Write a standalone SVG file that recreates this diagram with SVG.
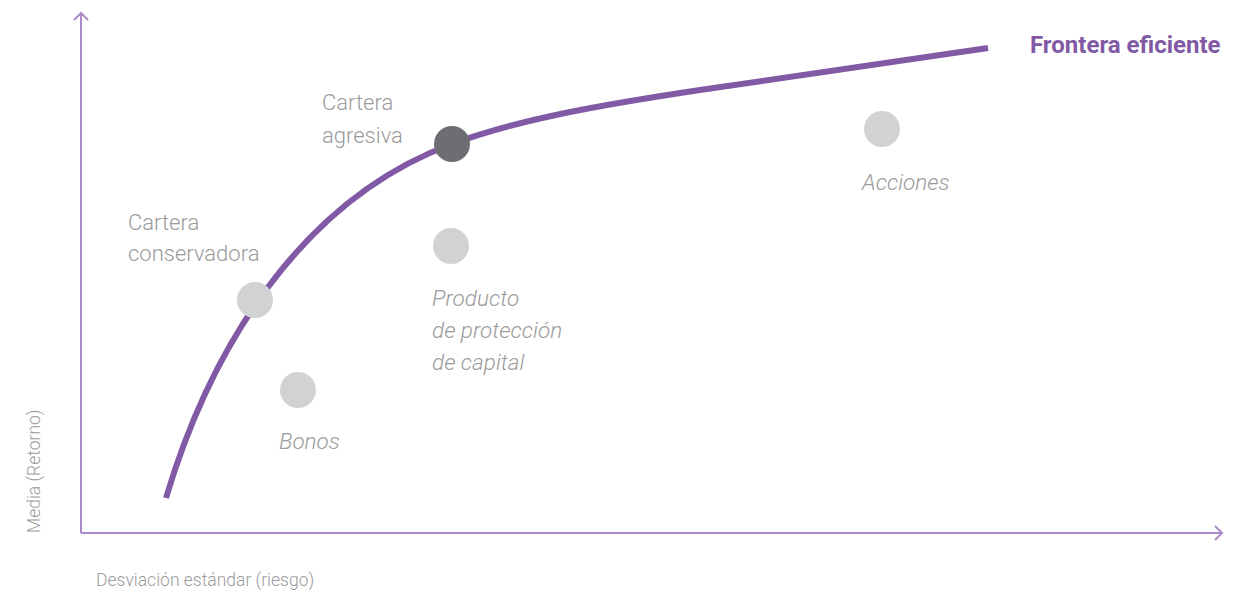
<svg xmlns="http://www.w3.org/2000/svg" width="1248" height="593" viewBox="0 0 1248 593">
<style>
.axis{fill:none;stroke:#a98cc7;stroke-width:2}
.lbl{font-family:Roboto,"Liberation Sans",sans-serif;font-weight:300;font-size:22px;fill:#9b9b9b}
.it{font-style:italic;font-size:22.5px}
.ax{font-family:Roboto,"Liberation Sans",sans-serif;font-weight:300;font-size:17.5px;fill:#9b9b9b}
.pt{fill:#d1d2d4}
</style>
<rect width="1248" height="593" fill="#fff"/>
<g id="axes">
<path class="axis" d="M81,533 V13 M74,20 L81,13 L88,20"/>
<path class="axis" d="M81,533 H1222 M1215,526 L1222,533 L1215,540"/>
<text class="ax" x="96" y="586">Desviación estándar (riesgo)</text>
<text class="ax" transform="translate(40,533) rotate(-90)" x="0" y="0">Media (Retorno)</text>
</g>
<g id="connectors">
<path d="M166,498 C210,350 300,200 452,144 C520,119 600,105 700,90 S900,60 988,48" fill="none" stroke="#8159a4" stroke-width="6"/>
</g>
<g id="frontera"><text x="1030" y="53" font-family="Roboto,'Liberation Sans',sans-serif" font-weight="700" font-size="24" fill="#8159a4">Frontera eficiente</text></g>
<g id="conservadora">
<circle class="pt" cx="255" cy="300" r="18"/>
<text class="lbl" x="128" y="230">Cartera</text>
<text class="lbl" x="128" y="261">conservadora</text>
</g>
<g id="agresiva">
<circle cx="452" cy="144" r="18" fill="#6d6e71"/>
<text class="lbl" x="322" y="110">Cartera</text>
<text class="lbl" x="322" y="143">agresiva</text>
</g>
<g id="bonos">
<circle class="pt" cx="298" cy="390" r="18"/>
<text class="lbl it" x="279" y="449">Bonos</text>
</g>
<g id="producto">
<circle class="pt" cx="451" cy="246" r="18"/>
<text class="lbl it" x="432" y="306">Producto</text>
<text class="lbl it" x="432" y="338">de protección</text>
<text class="lbl it" x="432" y="370">de capital</text>
</g>
<g id="acciones">
<circle class="pt" cx="882" cy="129" r="18"/>
<text class="lbl it" x="862" y="190">Acciones</text>
</g>
</svg>
